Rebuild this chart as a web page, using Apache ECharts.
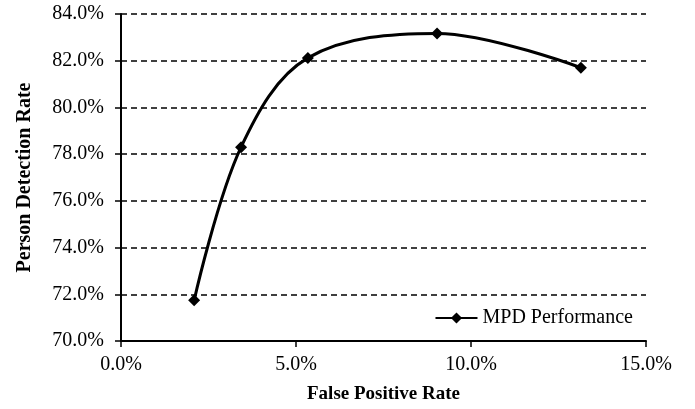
<!DOCTYPE html>
<html>
<head>
<meta charset="utf-8">
<script src="https://cdn.jsdelivr.net/npm/echarts@6/dist/echarts.min.js"></script>
<style>html,body{margin:0;padding:0;background:#fff}#c{width:695px;height:409px}</style>
</head>
<body>
<div id="c"></div>
<script>
const falsePositive = [2.09, 3.43, 5.34, 9.03, 13.14];
const detectionRate = [71.74, 78.3, 82.12, 83.17, 81.70];
const seriesName = 'MPD Performance';
const xTitle = 'False Positive Rate';
const yTitle = 'Person Detection Rate';

const font = '"Liberation Serif", "Times New Roman", serif';
const chart = echarts.init(document.getElementById('c'), null, {renderer: 'canvas'});
chart.setOption({
  animation: false,
  backgroundColor: '#fff',
  grid: {left: 121, right: 49, top: 14, bottom: 66, containLabel: false},
  legend: {
    right: 57, top: 303,
    itemWidth: 42, itemHeight: 14, itemGap: 4,
    textStyle: {fontFamily: font, fontSize: 20, color: '#000'},
    data: [seriesName]
  },
  xAxis: {
    type: 'value', min: 0, max: 15, interval: 5,
    name: xTitle, nameLocation: 'middle', nameGap: 44,
    nameTextStyle: {fontFamily: font, fontSize: 19, fontWeight: 'bold', color: '#000'},
    axisLine: {lineStyle: {color: '#000', width: 2}},
    axisTick: {show: true, length: 6, lineStyle: {color: '#000', width: 1.5}},
    axisLabel: {fontFamily: font, fontSize: 20, color: '#000', margin: 14,
      formatter: v => v.toFixed(1) + '%'},
    splitLine: {show: false}
  },
  yAxis: {
    type: 'value', min: 70, max: 84, interval: 2,
    name: yTitle, nameLocation: 'middle', nameGap: 86,
    nameTextStyle: {fontFamily: font, fontSize: 20, fontWeight: 'bold', color: '#000'},
    axisLine: {show: true, lineStyle: {color: '#000', width: 2}},
    axisTick: {show: true, length: 6, lineStyle: {color: '#000', width: 1.5}},
    axisLabel: {fontFamily: font, fontSize: 20, color: '#000', margin: 17,
      formatter: v => v.toFixed(1) + '%'},
    splitLine: {show: true, lineStyle: {color: '#000', width: 1.5, type: [6, 4]}}
  },
  series: [{
    name: seriesName,
    type: 'line',
    data: falsePositive.map((x, i) => [x, detectionRate[i]]),
    smooth: 0.35,
    symbol: 'diamond',
    symbolSize: 12,
    lineStyle: {color: '#000', width: 3},
    itemStyle: {color: '#000'}
  }]
});
</script>
</body>
</html>
